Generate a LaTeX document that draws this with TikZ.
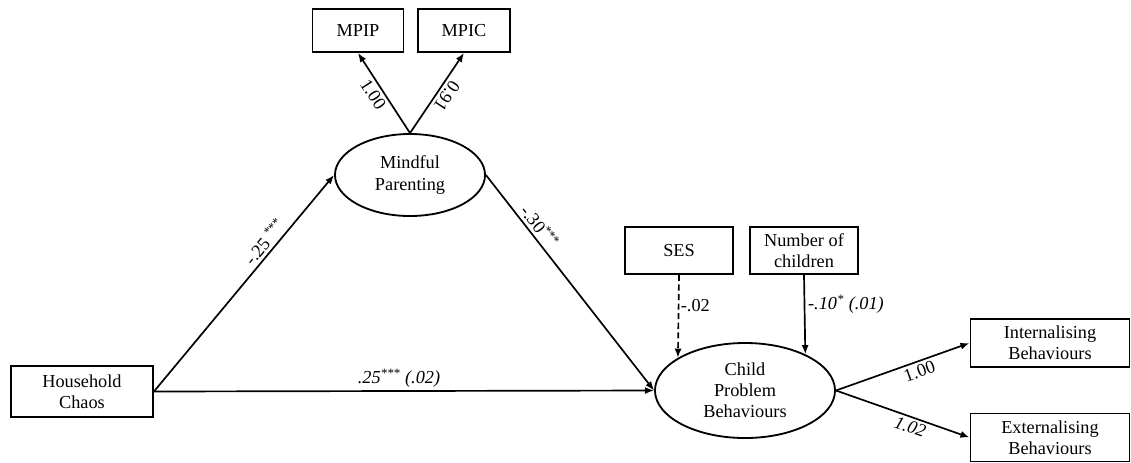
\documentclass[tikz,border=0pt]{standalone}
\usepackage{fontspec}
\setmainfont{Liberation Serif}
\usepackage{tikz}
\usetikzlibrary{arrows.meta,shapes}
\tikzstyle{obs}=[rectangle, draw, line width=1.3pt, align=center, inner sep=0pt,
font=\fontsize{13}{15}\selectfont]
\tikzstyle{lat}=[ellipse, draw, line width=1.3pt, align=center, inner sep=0pt,
font=\fontsize{13}{15}\selectfont]
\tikzstyle{semarrow}=[-{Latex[length=6.5pt,width=5pt]}, line width=1.2pt]
\tikzstyle{coef}=[font=\fontsize{13}{15}\selectfont, inner sep=2pt]
\tikzstyle{coefit}=[coef, font=\fontsize{13}{15}\selectfont\itshape]

\begin{document}
\begin{tikzpicture}[x=0.025cm, y=-0.025cm]
\useasboundingbox (0,0) rectangle (1131,462);
% indicators and observed variables
\node[obs, minimum width=2.275cm, minimum height=1.075cm] (mpip) at (358,30.5) {MPIP};
\node[obs, minimum width=2.3cm, minimum height=1.075cm] (mpic) at (464,30.5) {MPIC};
\node[obs, minimum width=3.55cm, minimum height=1.275cm] (hc) at (82,391.5) {Household\\Chaos};
\node[obs, minimum width=2.7cm, minimum height=1.175cm] (ses) at (679,250.5) {SES};
\node[obs, minimum width=2.7cm, minimum height=1.175cm] (noc) at (804,250.5) {Number of\\children};
\node[obs, minimum width=3.975cm, minimum height=1.2cm] (inb) at (1050,343) {Internalising\\Behaviours};
\node[obs, minimum width=3.975cm, minimum height=1.2cm] (exb) at (1050,437.5) {Externalising\\Behaviours};
% latent variables
\node[lat, minimum width=3.75cm, minimum height=2.05cm] (mp) at (410,175) {Mindful\\Parenting};
\node[lat, minimum width=4.5cm, minimum height=2.375cm] (cpb) at (745,390.5) {Child\\Problem\\Behaviours};

\draw[semarrow] (mp.north) -- node[coef, sloped, below, pos=0.55] (lmpip) {1.00} (mpip.south);
\draw[semarrow] (mp.north) -- node[coef, sloped, rotate=180, above, pos=0.53] (lmpic) {0.91} (mpic.south);
\draw[semarrow] (hc.east) -- node[coef, sloped, above, pos=0.66] (la) {-.25 \textsuperscript{***}} (mp.west);
\draw[semarrow] (mp.east) -- node[coef, sloped, above, pos=0.27] (lb) {-.30\textsuperscript{***}} (cpb.west);
\draw[semarrow] (hc.east) -- node[coefit, above, pos=0.49] (lc) {.25\textsuperscript{***} (.02)} (cpb.west);
\draw[semarrow, dash pattern=on 4.3pt off 2.5pt] (ses.south) -- node[coef, right, pos=0.37, inner sep=1pt] (lses) {-.02} (cpb.154);
\draw[semarrow] (noc.south) -- node[coefit, right, pos=0.37, inner sep=2pt] (lnoc) {-.10\textsuperscript{*} (.01)} (cpb.31.3);
\draw[semarrow] (cpb.east) -- node[coef, sloped, below, pos=0.6] (linb) {1.00} (inb.west);
\draw[semarrow] (cpb.east) -- node[coefit, sloped, below, pos=0.58] (lexb) {1.02} (exb.west);
\end{tikzpicture}
\end{document}
